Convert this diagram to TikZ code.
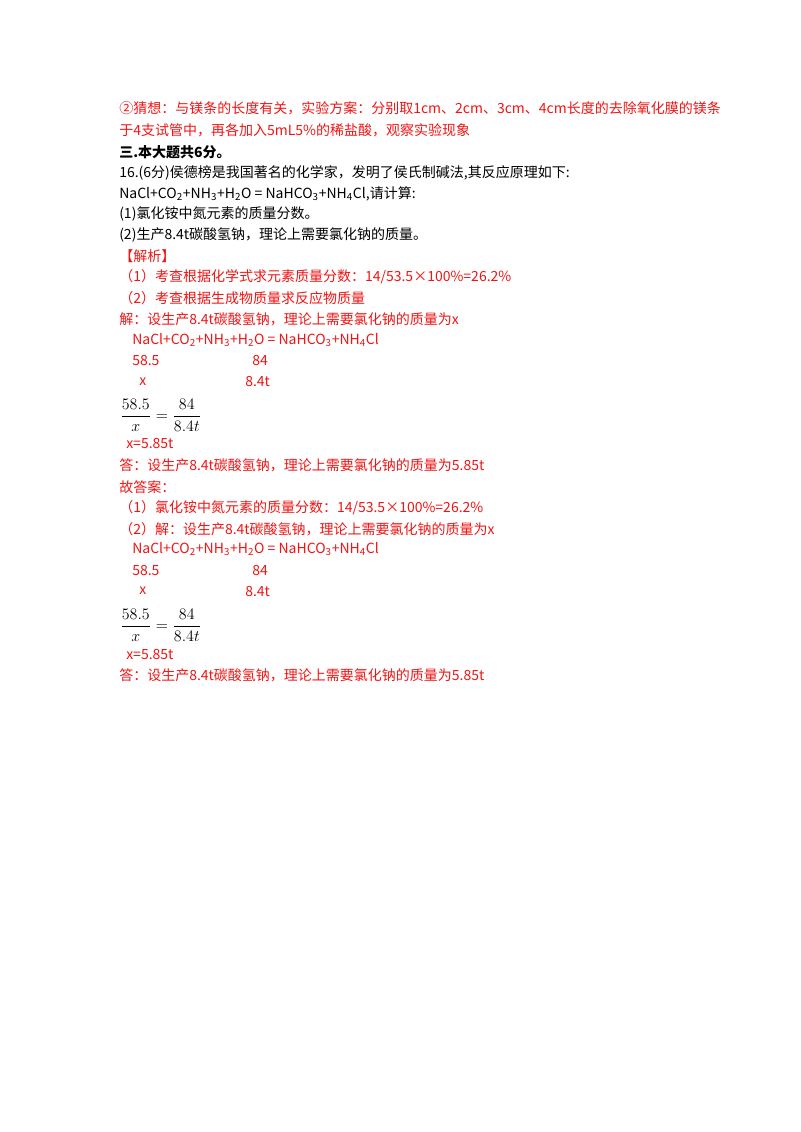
\documentclass[tikz,border=0pt]{standalone}
\usepackage{amsmath}
\usepackage{fontspec}
\setmainfont{Noto Sans CJK SC}
\definecolor{ans}{RGB}{240,20,20}
\begin{document}
\begin{tikzpicture}[x=0.75pt,y=-0.75pt,
  ln/.style={anchor=west,inner sep=0pt,font=\fontsize{10.5}{12}\selectfont},
  rd/.style={ln,text=ans},
  fr/.style={anchor=west,inner sep=0pt,font=\fontsize{13}{15}\selectfont}]
\useasboundingbox (0,0) rectangle (800,1132);
\node[rd] (l1) at (119,108) {②猜想：与镁条的长度有关，实验方案：分别取1cm、2cm、3cm、4cm长度的去除氧化膜的镁条};
\node[rd] (l2) at (119,130) {于4支试管中，再各加入5mL5\%的稀盐酸，观察实验现象};
\node[ln,font=\fontsize{10.5}{12}\selectfont\bfseries] (l3) at (119,152) {三.本大题共6分。};
\node[ln] (l4) at (119,173) {16.(6分)侯德榜是我国著名的化学家，发明了侯氏制碱法,其反应原理如下:};
\node[ln] (l5) at (119,194) {NaCl+CO\textsubscript{2}+NH\textsubscript{3}+H\textsubscript{2}O = NaHCO\textsubscript{3}+NH\textsubscript{4}Cl,请计算:};
\node[ln] (l6) at (119,214) {(1)氯化铵中氮元素的质量分数。};
\node[ln] (l7) at (119,235) {(2)生产8.4t碳酸氢钠，理论上需要氯化钠的质量。};
\node[rd] (l8) at (119,256) {【解析】};
\node[rd] (l9) at (119,277) {（1）考查根据化学式求元素质量分数：14/53.5×100\%=26.2\%};
\node[rd] (l10) at (119,298) {（2）考查根据生成物质量求反应物质量};
\node[rd] (l11) at (119,319) {解：设生产8.4t碳酸氢钠，理论上需要氯化钠的质量为x};
\node[rd] (l12) at (132,340) {NaCl+CO\textsubscript{2}+NH\textsubscript{3}+H\textsubscript{2}O = NaHCO\textsubscript{3}+NH\textsubscript{4}Cl};
\node[rd] (l13) at (132,361) {58.5};
\node[rd] (l13b) at (252,361) {84};
\node[rd] (l14) at (139,382) {x};
\node[rd] (l14b) at (245,382) {8.4t};
\node[fr] (f1) at (120,415) {$\dfrac{58.5}{x}=\dfrac{84}{8.4t}$};
\node[rd] (l15) at (126,444) {x=5.85t};
\node[rd] (l16) at (119,465) {答：设生产8.4t碳酸氢钠，理论上需要氯化钠的质量为5.85t};
\node[rd] (l17) at (119,487) {故答案：};
\node[rd] (l18) at (119,508) {（1）氯化铵中氮元素的质量分数：14/53.5×100\%=26.2\%};
\node[rd] (l19) at (119,529) {（2）解：设生产8.4t碳酸氢钠，理论上需要氯化钠的质量为x};
\node[rd] (l20) at (132,549) {NaCl+CO\textsubscript{2}+NH\textsubscript{3}+H\textsubscript{2}O = NaHCO\textsubscript{3}+NH\textsubscript{4}Cl};
\node[rd] (l21) at (132,570) {58.5};
\node[rd] (l21b) at (252,570) {84};
\node[rd] (l22) at (139,591) {x};
\node[rd] (l22b) at (245,591) {8.4t};
\node[fr] (f2) at (120,625) {$\dfrac{58.5}{x}=\dfrac{84}{8.4t}$};
\node[rd] (l23) at (126,654) {x=5.85t};
\node[rd] (l24) at (119,675) {答：设生产8.4t碳酸氢钠，理论上需要氯化钠的质量为5.85t};
\end{tikzpicture}
\end{document}
